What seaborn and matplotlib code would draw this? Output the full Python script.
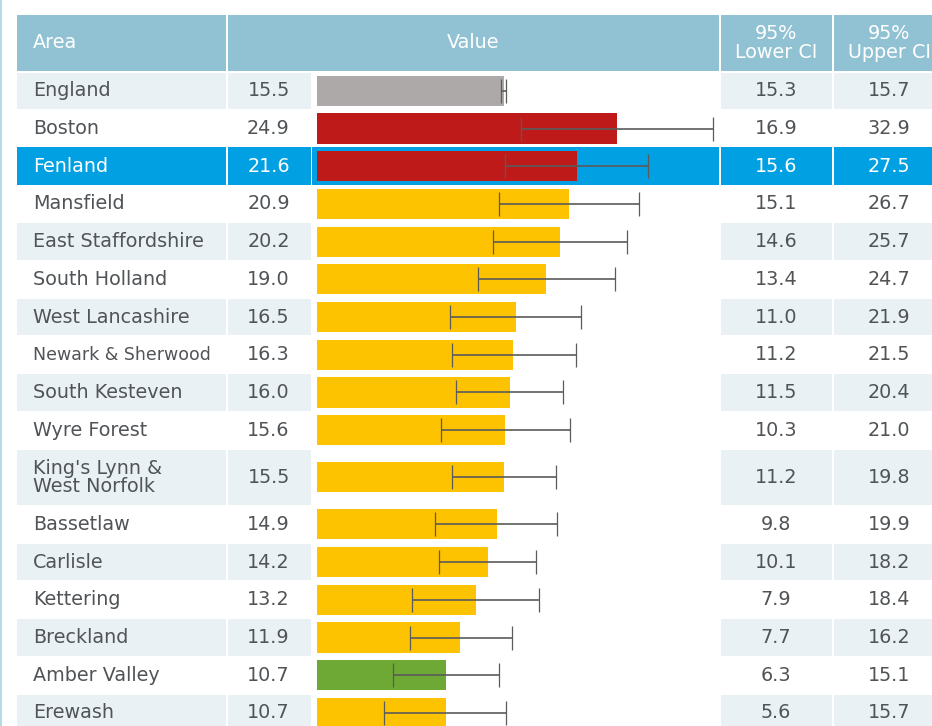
import numpy as np
import pandas as pd
import matplotlib
matplotlib.use("Agg")
import matplotlib.pyplot as plt
from matplotlib.patches import Rectangle
import seaborn as sns


# ---------------- DATA ----------------
areas = ["England", "Boston", "Fenland", "Mansfield", "East Staffordshire",
         "South Holland", "West Lancashire", "Newark & Sherwood",
         "South Kesteven", "Wyre Forest", "King's Lynn &\nWest Norfolk",
         "Bassetlaw", "Carlisle", "Kettering", "Breckland", "Amber Valley",
         "Erewash"]
values = [15.5, 24.9, 21.6, 20.9, 20.2, 19.0, 16.5, 16.3, 16.0, 15.6, 15.5,
          14.9, 14.2, 13.2, 11.9, 10.7, 10.7]
lower_ci = [15.3, 16.9, 15.6, 15.1, 14.6, 13.4, 11.0, 11.2, 11.5, 10.3, 11.2,
            9.8, 10.1, 7.9, 7.7, 6.3, 5.6]
upper_ci = [15.7, 32.9, 27.5, 26.7, 25.7, 24.7, 21.9, 21.5, 20.4, 21.0, 19.8,
            19.9, 18.2, 18.4, 16.2, 15.1, 15.7]
# compared with England
significance = ["benchmark", "worse", "worse", "similar", "similar", "similar",
                "similar", "similar", "similar", "similar", "similar",
                "similar", "similar", "similar", "similar", "better", "similar"]
highlight_area = "Fenland"


# ---------------- STYLE ----------------
palette = {"benchmark": "#ADA9A8", "worse": "#BE1A1A",
           "similar": "#FDC300", "better": "#6EA835"}
HEADER = "#91C2D3"
SHADE = "#EAF1F5"
HILITE = "#00A0E2"
TEXT = "#505457"
W, H = 932, 726
ROW_PX = 37.7
TOP = 72.0

sns.set_theme(style="white")
plt.rcParams["font.family"] = ["DejaVu Sans"]

# row layout (two-line label gets a taller row)
row_h = np.array([1.5 if "\n" in a else 1.0 for a in areas])
row_top = np.concatenate([[0], np.cumsum(row_h)[:-1]])
row_mid = row_top + row_h / 2

df = pd.DataFrame({"area": areas, "value": values, "lower": lower_ci,
                   "upper": upper_ci, "sig": significance, "pos": row_mid})

fig = plt.figure(figsize=(W / 100, H / 100), dpi=100)

# ---------------- TABLE BACKGROUND ----------------
bg = fig.add_axes([0, 0, 1, 1])
bg.set_xlim(0, W)
bg.set_ylim(H, 0)
bg.axis("off")

bg.add_patch(Rectangle((0, 0), 1.6, H, color="#B5DCE6", lw=0))

cols = {"area": (17, 225.5), "val": (228, 310.7), "bar": (311.7, 719.3),
        "low": (720.7, 832.3), "up": (834.3, W)}

# header
for x0, x1 in [(17, 225.5), (228, 718.6), (720.7, 832.3), (834.3, W)]:
    bg.add_patch(Rectangle((x0, 15), x1 - x0, 56, color=HEADER, lw=0))
hkw = dict(color="white", fontsize=13.8, va="center")
bg.text(33, 43, "Area", ha="left", **hkw)
bg.text(473, 43, "Value", ha="center", **hkw)
bg.text(776, 43, "95%\nLower CI", ha="center", linespacing=1.05, **hkw)
bg.text(889, 43, "95%\nUpper CI", ha="center", linespacing=1.05, **hkw)

for i, r in df.iterrows():
    y0 = TOP + row_top[i] * ROW_PX
    hpx = row_h[i] * ROW_PX
    yc = TOP + r["pos"] * ROW_PX
    hi = r["area"] == highlight_area
    if hi:
        for k in ["area", "val", "bar", "low", "up"]:
            x0, x1 = cols[k]
            bg.add_patch(Rectangle((x0, y0), x1 - x0, hpx, color=HILITE, lw=0))
    elif i % 2 == 0:
        for k in ["area", "val", "low", "up"]:
            x0, x1 = cols[k]
            bg.add_patch(Rectangle((x0, y0 + 0.5), x1 - x0, hpx - 1,
                                   color=SHADE, lw=0))
    tc = "white" if hi else TEXT
    fs = 12.5 if "&" in r["area"] and "\n" not in r["area"] else 13.8
    bg.text(33, yc, r["area"], ha="left", va="center", color=tc,
            fontsize=fs, linespacing=0.95)
    bg.text(268.5, yc, f"{r['value']:.1f}", ha="center", va="center",
            color=tc, fontsize=13.8)
    bg.text(776, yc, f"{r['lower']:.1f}", ha="center", va="center",
            color=tc, fontsize=13.8)
    bg.text(889, yc, f"{r['upper']:.1f}", ha="center", va="center",
            color=tc, fontsize=13.8)

# ---------------- BARS ----------------
x_left, x_right = 317, 718
ax = fig.add_axes([x_left / W, 0, (x_right - x_left) / W, (H - TOP) / H])
ax.patch.set_alpha(0)
sns.barplot(data=df, x="value", y="pos", hue="sig", palette=palette,
            orient="y", native_scale=True, dodge=False, legend=False,
            errorbar=None, saturation=1, width=0.8, linewidth=0, ax=ax)
ax.errorbar(df["value"], df["pos"],
            xerr=[df["value"] - df["lower"], df["upper"] - df["value"]],
            fmt="none", ecolor="#5B5B5B", elinewidth=1.2, capsize=8.5,
            capthick=0.9)
ax.set_xlim(0, (x_right - x_left) / 12.05)
ax.set_ylim((H - TOP) / ROW_PX, 0)
ax.axis("off")

plt.savefig("out.png", dpi=100)
plt.close()
